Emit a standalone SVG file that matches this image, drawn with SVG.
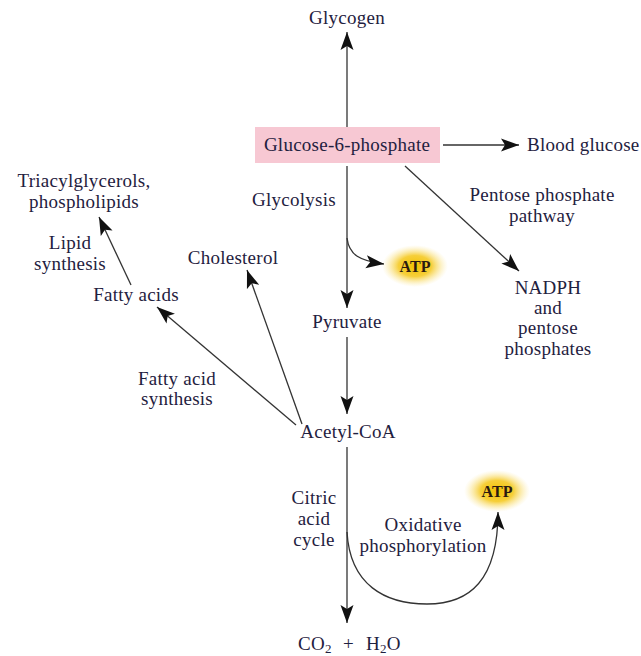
<svg xmlns="http://www.w3.org/2000/svg" width="641" height="656" viewBox="0 0 641 656">
<style>
text{font-family:"Liberation Serif","Times New Roman",serif;font-size:19px;letter-spacing:0.25px;fill:#1f2140;text-anchor:middle}
.l{text-anchor:start}
.b{font-weight:bold;font-size:16px;letter-spacing:0;fill:#2a1a10}
.s{font-size:13px}
.c{fill:none;stroke:#333;stroke-width:1.3}
</style>
<defs>
<marker id="ah" markerUnits="userSpaceOnUse" markerWidth="20" markerHeight="14" refX="18" refY="7" orient="auto">
<path d="M0,0.5 L18,7 L0,13.5 L4,7 Z" fill="#111"/>
</marker>
<radialGradient id="glow">
<stop offset="0" stop-color="#f3c200"/>
<stop offset="0.5" stop-color="#f6cf3a"/>
<stop offset="1" stop-color="#fbe9a0" stop-opacity="0"/>
</radialGradient>
</defs>
<g id="connectors">
<path class="c" d="M347,127 V32" marker-end="url(#ah)"/>
<path class="c" d="M443,145 H519" marker-end="url(#ah)"/>
<path class="c" d="M405,166 L519,271" marker-end="url(#ah)"/>
<path class="c" d="M347,166 V308" marker-end="url(#ah)"/>
<path class="c" d="M347,238 C349,255 360,261 384,264" marker-end="url(#ah)"/>
<path class="c" d="M347,337 V414" marker-end="url(#ah)"/>
<path class="c" d="M347,447 V623" marker-end="url(#ah)"/>
<path class="c" d="M347,532 C350,585 385,604 427,604 C470,604 498,580 498,512" marker-end="url(#ah)"/>
<path class="c" d="M296,425 L157,307" marker-end="url(#ah)"/>
<path class="c" d="M302,424 L247,270" marker-end="url(#ah)"/>
<path class="c" d="M131,285 L99,217" marker-end="url(#ah)"/>
</g>
<g id="glycogen"><text x="347" y="24">Glycogen</text></g>
<g id="g6p"><rect x="255" y="127" width="185" height="36" fill="#f7c8d3"/><text x="347" y="151">Glucose-6-phosphate</text></g>
<g id="blood-glucose"><text class="l" x="527" y="151">Blood glucose</text></g>
<g id="ppp-label"><text x="542" y="201">Pentose phosphate</text><text x="542" y="222">pathway</text></g>
<g id="nadph"><text x="548" y="294">NADPH</text><text x="548" y="314">and</text><text x="548" y="334">pentose</text><text x="548" y="355">phosphates</text></g>
<g id="glycolysis"><text x="294" y="206">Glycolysis</text></g>
<g id="atp1"><ellipse cx="415" cy="266" rx="33" ry="21" fill="url(#glow)"/><text class="b" x="415" y="272">ATP</text></g>
<g id="pyruvate"><text x="347" y="328">Pyruvate</text></g>
<g id="acetyl-coa"><text x="348" y="438">Acetyl-CoA</text></g>
<g id="citric"><text x="314" y="504">Citric</text><text x="314" y="525">acid</text><text x="314" y="546">cycle</text></g>
<g id="oxphos"><text x="423" y="531">Oxidative</text><text x="423" y="552">phosphorylation</text></g>
<g id="atp2"><ellipse cx="497" cy="491" rx="33" ry="21" fill="url(#glow)"/><text class="b" x="497" y="497">ATP</text></g>
<g id="products"><text class="l" x="298" y="650">CO<tspan class="s" dy="3">2</tspan><tspan x="343" dy="-3">+</tspan><tspan x="366">H</tspan><tspan class="s" dy="3">2</tspan><tspan dy="-3">O</tspan></text></g>
<g id="cholesterol"><text x="233" y="264">Cholesterol</text></g>
<g id="fatty-acids"><text x="136" y="301">Fatty acids</text></g>
<g id="fa-synthesis"><text x="177" y="385">Fatty acid</text><text x="177" y="405">synthesis</text></g>
<g id="lipid-synthesis"><text x="70" y="249">Lipid</text><text x="70" y="270">synthesis</text></g>
<g id="tag"><text x="84" y="187">Triacylglycerols,</text><text x="84" y="208">phospholipids</text></g>
</svg>
